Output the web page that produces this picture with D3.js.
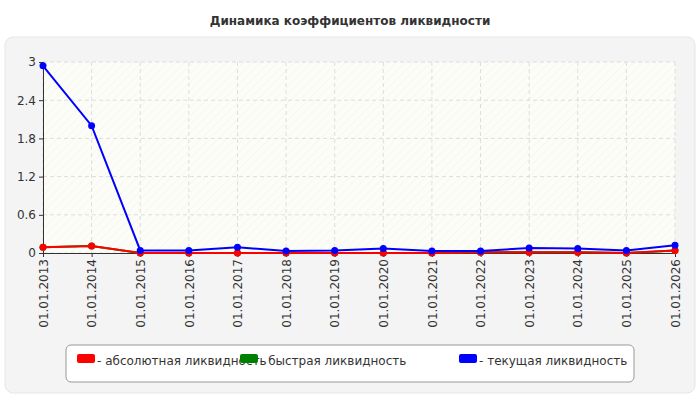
<!DOCTYPE html><html><head><meta charset="utf-8"><script src="https://cdn.jsdelivr.net/npm/d3@7"></script>
<style>body{margin:0;background:#fff;font-family:"DejaVu Sans",Arial,sans-serif}</style></head><body><svg id="c" width="700" height="400" font-family="DejaVu Sans, Arial, sans-serif"></svg><script>
const categories=["01.01.2013","01.01.2014","01.01.2015","01.01.2016","01.01.2017","01.01.2018","01.01.2019","01.01.2020","01.01.2021","01.01.2022","01.01.2023","01.01.2024","01.01.2025","01.01.2026"];
const absolute=[0.09,0.11,0,0,0,0,0,0,0,0.01,0.01,0.01,0,0.04];
const quick=[0.09,0.11,0,0,0,0,0,0,0,0.01,0.01,0.01,0,0.04];
const current=[2.94,2.0,0.04,0.04,0.09,0.03,0.04,0.07,0.03,0.03,0.08,0.07,0.04,0.12];
const yTicks=[0,0.6,1.2,1.8,2.4,3];
const seriesNames=["- абсолютная ликвидность","- быстрая ликвидность","- текущая ликвидность"];
const svg=d3.select("#c");
const defs=svg.append("defs");
const pat=defs.append("pattern").attr("id","h").attr("width",6).attr("height",6).attr("patternUnits","userSpaceOnUse").attr("patternTransform","rotate(45)");
pat.append("rect").attr("width",6).attr("height",6).attr("fill","#fdfdf8");
pat.append("line").attr("x1",0).attr("y1",0).attr("x2",0).attr("y2",6).attr("stroke","#efefef").attr("stroke-width",1);
svg.append("text").attr("x",350).attr("y",25).attr("text-anchor","middle").attr("font-size",12).attr("font-weight","bold").attr("fill","#333").text("Динамика коэффициентов ликвидности");
svg.append("rect").attr("x",5).attr("y",37).attr("width",690).attr("height",356).attr("rx",8).attr("fill","#f4f4f4").attr("stroke","#e6e6e6");
const x=d3.scalePoint().domain(categories).range([43,675]);
const y=d3.scaleLinear().domain([0,3]).range([253,62]);
svg.append("rect").attr("x",43).attr("y",62).attr("width",632).attr("height",191).attr("fill","url(#h)");
const g=svg.append("g");
yTicks.forEach(t=>{g.append("line").attr("x1",43).attr("x2",675).attr("y1",y(t)).attr("y2",y(t)).attr("stroke","#ddd").attr("stroke-dasharray","4,3");});
categories.forEach(c=>{g.append("line").attr("x1",x(c)).attr("x2",x(c)).attr("y1",62).attr("y2",253).attr("stroke","#ddd").attr("stroke-dasharray","4,3");});
const ya=svg.append("g").attr("transform","translate(43,0)").call(d3.axisLeft(y).tickValues(yTicks).tickFormat(d=>String(d)).tickSize(4));
ya.selectAll("text").attr("font-size",12).attr("fill","#333").attr("font-family","DejaVu Sans, Arial, sans-serif");
const xa=svg.append("g").attr("transform","translate(0,253)").call(d3.axisBottom(x).tickSize(4));
xa.selectAll("text").attr("font-size",12).attr("fill","#333").attr("font-family","DejaVu Sans, Arial, sans-serif").attr("transform","rotate(-90)").attr("text-anchor","end").attr("dx","-6").attr("dy","0.35em").attr("x",0).attr("y",0);
svg.selectAll(".domain,.tick line").attr("stroke","#333");
const line=d3.line().x((d,i)=>x(categories[i])).y(d=>y(d));
[[quick,"green"],[absolute,"red"],[current,"blue"]].forEach(([s,col])=>{
 svg.append("path").attr("d",line(s)).attr("fill","none").attr("stroke",col).attr("stroke-width",2);
 svg.append("g").selectAll("circle").data(s).join("circle").attr("cx",(d,i)=>x(categories[i])).attr("cy",d=>y(d)).attr("r",3.5).attr("fill",col);
});
svg.append("rect").attr("x",66).attr("y",345).attr("width",568).attr("height",37).attr("rx",5).attr("fill","#fff").attr("stroke","#999");
const lx=[77,240,459], cols=["red","green","blue"];
seriesNames.forEach((n,i)=>{
 svg.append("rect").attr("x",lx[i]).attr("y",354).attr("width",18).attr("height",9).attr("rx",2).attr("fill",cols[i]);
 svg.append("text").attr("x",lx[i]+20).attr("y",365).attr("font-size",12).attr("fill","#333").text(n);
});
</script></body></html>
